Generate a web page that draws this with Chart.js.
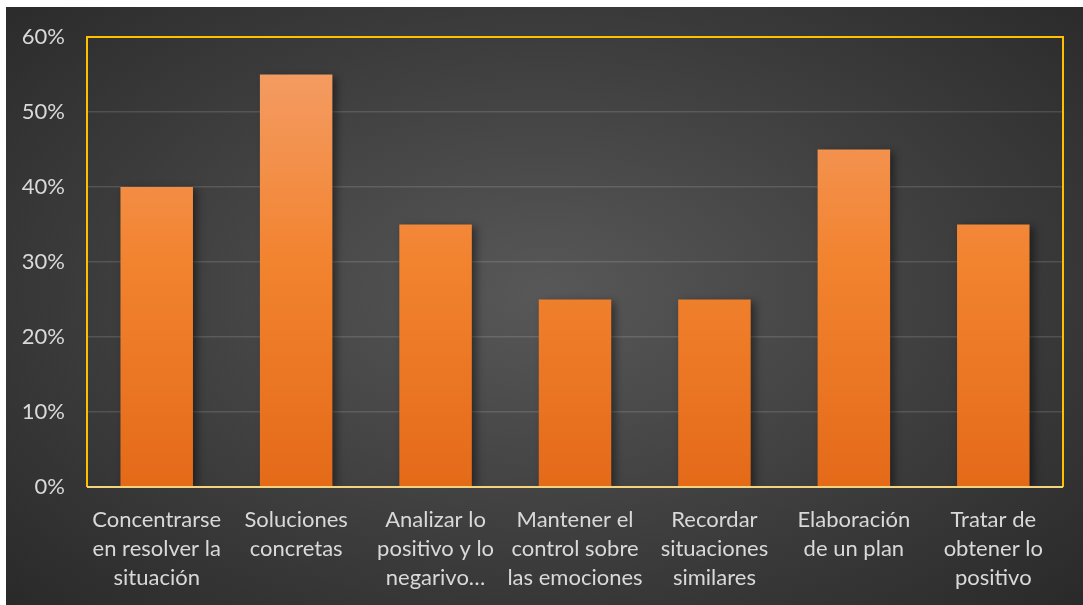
<!DOCTYPE html>
<html>
<head>
<meta charset="utf-8">
<script src="https://cdn.jsdelivr.net/npm/chart.js@4"></script>
<style>
  html, body { margin: 0; padding: 0; background: #fff; }
  #wrap {
    position: absolute; left: 6px; top: 7px; width: 1077px; height: 598px;
    background: radial-gradient(ellipse 75% 80% at 50% 48%, #585858 0%, #3c3c3c 55%, #262626 100%);
  }
  canvas { display: block; }
</style>
</head>
<body>
<div id="wrap"><canvas id="barChart" width="1077" height="598"></canvas></div>
<script>
// categories (multi-line labels) and values in percent
var categories = [
  ['Concentrarse', 'en resolver la', 'situación'],
  ['Soluciones', 'concretas'],
  ['Analizar lo', 'positivo y lo', 'negarivo…'],
  ['Mantener el', 'control sobre', 'las emociones'],
  ['Recordar', 'situaciones', 'similares'],
  ['Elaboración', 'de un plan'],
  ['Tratar de', 'obtener lo', 'positivo']
];
var values = [40, 55, 35, 25, 25, 45, 35];
var yTicks = [0, 10, 20, 30, 40, 50, 60];

var ctx = document.getElementById('barChart').getContext('2d');

// orange vertical gradient for the bars
function barGradient(context) {
  var area = context.chart.chartArea;
  if (!area) return '#F07A2C';
  var g = context.chart.ctx.createLinearGradient(0, area.top, 0, area.bottom);
  g.addColorStop(0, '#F4A06C');
  g.addColorStop(0.5, '#F2832F');
  g.addColorStop(1, '#E46A18');
  return g;
}

// soft shadow to the right of the bars
var barShadow = {
  id: 'barShadow',
  beforeDatasetsDraw: function (chart) {
    var c = chart.ctx;
    c.save();
    c.shadowColor = 'rgba(0,0,0,0.45)';
    c.shadowBlur = 8;
    c.shadowOffsetX = 4;
    c.shadowOffsetY = 2;
  },
  afterDatasetsDraw: function (chart) {
    chart.ctx.restore();
  }
};

// yellow frame round the plot area
var frame = {
  id: 'frame',
  afterDraw: function (chart) {
    var a = chart.chartArea, c = chart.ctx;
    c.save();
    c.lineWidth = 2;
    c.strokeStyle = '#FFC000';
    c.beginPath();
    c.moveTo(a.left, a.bottom);
    c.lineTo(a.left, a.top);
    c.lineTo(a.right, a.top);
    c.lineTo(a.right, a.bottom);
    c.stroke();
    c.strokeStyle = '#F3D37E';
    c.beginPath();
    c.moveTo(a.left, a.bottom);
    c.lineTo(a.right, a.bottom);
    c.stroke();
    c.restore();
  }
};

var myChart = new Chart(ctx, {
  type: 'bar',
  data: {
    labels: categories,
    datasets: [{
      data: values,
      backgroundColor: barGradient,
      borderWidth: 0,
      barPercentage: 0.52,
      categoryPercentage: 1.0
    }]
  },
  options: {
    responsive: false,
    animation: false,
    layout: { padding: { top: 30, right: 20, left: 0, bottom: 0 } },
    plugins: { legend: { display: false }, tooltip: { enabled: false } },
    scales: {
      x: {
        grid: { display: false },
        border: { display: false },
        ticks: {
          color: '#D9D9D9',
          font: { family: 'Lato', size: 22, lineHeight: 1.32 },
          maxRotation: 0,
          autoSkip: false,
          padding: 10
        },
        afterFit: function (s) { s.height = 118; s.paddingLeft = 0; s.paddingRight = 0; }
      },
      y: {
        min: 0,
        max: 60,
        afterBuildTicks: function (s) { s.ticks = yTicks.map(function (v) { return { value: v }; }); },
        grid: { color: 'rgba(255,255,255,0.13)', lineWidth: 1.5, drawTicks: false },
        border: { display: false },
        ticks: {
          color: '#D9D9D9',
          font: { family: 'Lato', size: 22 },
          padding: 22,
          callback: function (v) { return v + '%'; }
        },
        afterFit: function (s) { s.width = 81; s.paddingTop = 0; s.paddingBottom = 0; }
      }
    }
  },
  plugins: [barShadow, frame]
});
</script>
</body>
</html>
